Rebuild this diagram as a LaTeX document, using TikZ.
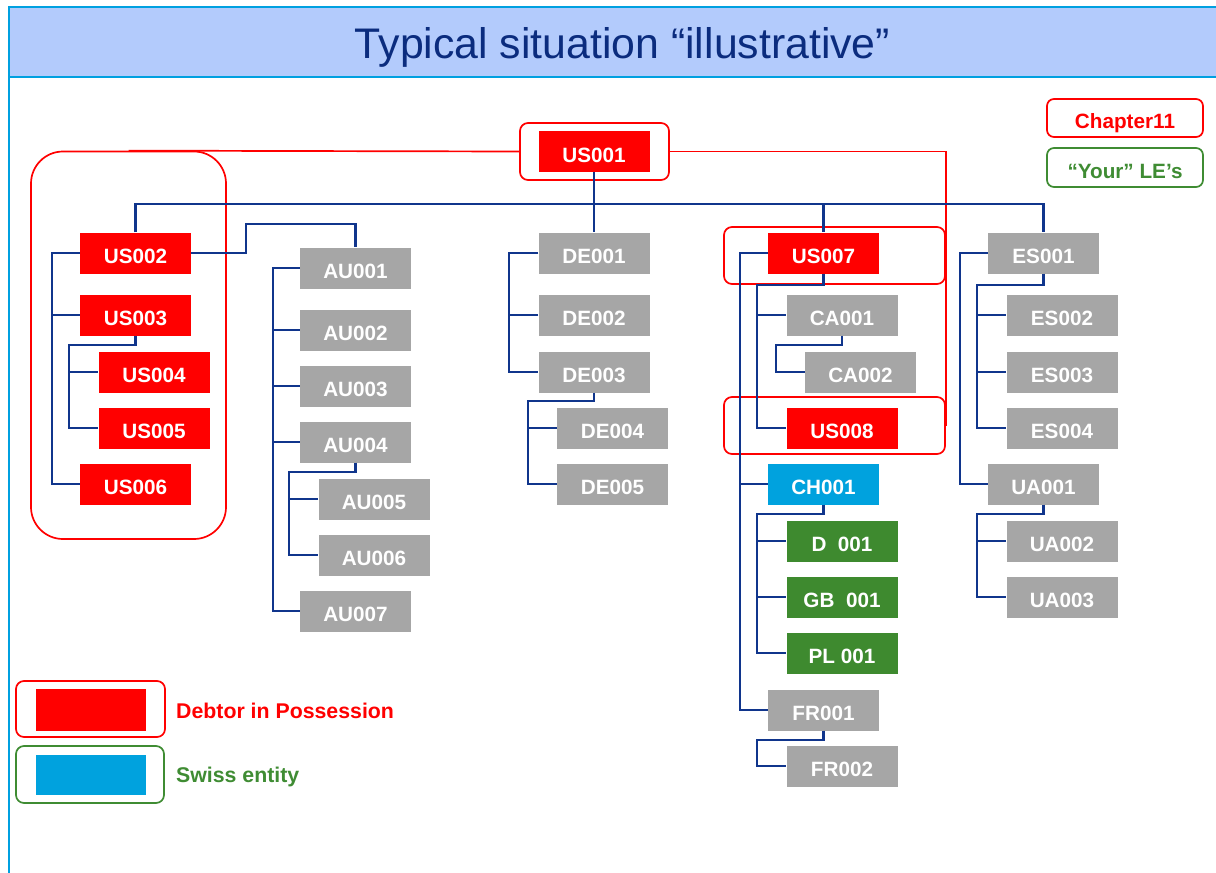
\documentclass[tikz,border=0pt]{standalone}
\usepackage{fontspec}
\setmainfont{Liberation Sans}
\definecolor{dipred}{HTML}{FF0000}
\definecolor{legrey}{HTML}{A6A6A6}
\definecolor{navyline}{HTML}{10358C}
\definecolor{swissblue}{HTML}{00A2DE}
\definecolor{boxgreen}{HTML}{3E8A2F}
\definecolor{legreen}{HTML}{3F8C33}
\definecolor{titlefill}{HTML}{B3CBFC}
\definecolor{titlenavy}{HTML}{0B2C7E}
\definecolor{framecyan}{HTML}{00A0E0}
\newcommand\entfont{\fontsize{20.7}{24}\selectfont\bfseries}
\newcommand\keyfont{\fontsize{21.3}{25}\selectfont\bfseries}
\tikzset{
  ent/.style={rectangle, minimum width=111pt, minimum height=41pt, inner sep=0pt,
    text=white, font=\entfont, text height=21pt, text depth=0pt},
  dip/.style={ent, fill=dipred},
  lent/.style={ent, fill=legrey},
  swent/.style={ent, fill=swissblue},
  grent/.style={ent, fill=boxgreen},
  link/.style={draw=navyline, line width=2.3pt},
  redl/.style={draw=dipred, line width=1.7pt},
  ring/.style={rectangle, draw=dipred, line width=1.7pt, rounded corners=8pt, inner sep=0pt},
  keytext/.style={font=\keyfont, inner sep=0pt, text height=15pt, text depth=0pt},
}
\begin{document}
\begin{tikzpicture}[x=1pt,y=-1pt]
\useasboundingbox (0,0) rectangle (1216,873);
% title band
\fill[titlefill] (9,7) rectangle (1216,77);
\draw[framecyan, line width=1.3pt] (1216,7) -- (9,7);
\draw[framecyan, line width=2.6pt] (9,77) -- (1216,77);
\draw[framecyan, line width=2.4pt] (9,6.4) -- (9,873);
\node[font=\fontsize{42.8}{48}\selectfont, text=titlenavy, anchor=base, inner sep=0pt] (title) at (622.5,58) {Typical situation “illustrative”};

% red outlines
\node[ring, minimum width=149pt, minimum height=57pt] (us001o) at (594.5,151.5) {};
\node[ring, rounded corners=32pt, minimum width=195pt, minimum height=387.5pt] (grp) at (128.5,345.25) {};
\node[ring, minimum width=221pt, minimum height=57pt] (us007o) at (834.5,255.5) {};
\node[ring, minimum width=221pt, minimum height=57pt] (us008o) at (834.5,425.5) {};
\draw[redl] (grp.north) -- (us001o.west);
\draw[redl] (us001o.east) -| (us008o.east);

% entities
\node[dip] (us001) at (594,151.5) {US001};
\node[dip] (us002) at (135.5,253) {US002};
\node[dip] (us003) at (135.5,315) {US003};
\node[dip] (us004) at (154,372) {US004};
\node[dip] (us005) at (154,428) {US005};
\node[dip] (us006) at (135.5,484) {US006};
\node[lent] (au001) at (355.5,268) {AU001};
\node[lent] (au002) at (355.5,330) {AU002};
\node[lent] (au003) at (355.5,386) {AU003};
\node[lent] (au004) at (355.5,442) {AU004};
\node[lent] (au005) at (374,499) {AU005};
\node[lent] (au006) at (374,555) {AU006};
\node[lent] (au007) at (355.5,611) {AU007};
\node[lent] (de001) at (594,253) {DE001};
\node[lent] (de002) at (594,315) {DE002};
\node[lent] (de003) at (594,372) {DE003};
\node[lent] (de004) at (612.5,428) {DE004};
\node[lent] (de005) at (612.5,484) {DE005};
\node[dip] (us007) at (823.5,253) {US007};
\node[lent] (ca001) at (842,315) {CA001};
\node[lent] (ca002) at (860.5,372) {CA002};
\node[dip] (us008) at (842,428) {US008};
\node[swent] (ch001) at (823.5,484) {CH001};
\node[grent] (d001) at (842,541) {D\ \ 001};
\node[grent] (gb001) at (842,597) {GB\ \ 001};
\node[grent] (pl001) at (842,653) {PL 001};
\node[lent] (fr001) at (823.5,710) {FR001};
\node[lent] (fr002) at (842,766) {FR002};
\node[lent] (es001) at (1043.5,253) {ES001};
\node[lent] (es002) at (1062,315) {ES002};
\node[lent] (es003) at (1062,372) {ES003};
\node[lent] (es004) at (1062,428) {ES004};
\node[lent] (ua001) at (1043.5,484) {UA001};
\node[lent] (ua002) at (1062,541) {UA002};
\node[lent] (ua003) at (1062,597) {UA003};

% connectors
\coordinate (bus) at (594,204);
\coordinate (k1) at (246,224);
\draw[link] (us001.south) -- (de001.north);
\draw[link] (us002.north) |- (bus) -| (es001.north);
\draw[link] (bus) -| (us007.north);
\draw[link] (us002.east) -| (k1) -| (au001.north);
% US002 tree
\draw[link] (us002.west) -- ++(-28,0) |- (us006.west);
\draw[link] (us003.west) -- ++(-28,0);
\draw[link] (us003.south) -- ++(0,9) -| ([xshift=-29pt]us005.west) -- (us005.west);
\draw[link] ([xshift=-29pt]us004.west) -- (us004.west);
% AU tree
\draw[link] (au001.west) -- ++(-27,0) |- (au007.west);
\draw[link] (au002.west) -- ++(-27,0);
\draw[link] (au003.west) -- ++(-27,0);
\draw[link] (au004.west) -- ++(-27,0);
\draw[link] (au004.south) -- ++(0,9) -| ([xshift=-29pt]au006.west) -- (au006.west);
\draw[link] ([xshift=-29pt]au005.west) -- (au005.west);
% DE tree
\draw[link] (de001.west) -- ++(-29,0) |- (de003.west);
\draw[link] (de002.west) -- ++(-29,0);
\draw[link] (de003.south) -- ++(0,8) -| ([xshift=-29pt]de005.west) -- (de005.west);
\draw[link] ([xshift=-29pt]de004.west) -- (de004.west);
% US007 tree
\draw[link] (us007.west) -- ++(-28,0) |- (fr001.west);
\draw[link] (ch001.west) -- ++(-28,0);
\draw[link] (us007.south) -- ++(0,11) -| ([xshift=-29pt]us008.west) -- (us008.west);
\draw[link] ([xshift=-29pt]ca001.west) -- (ca001.west);
\draw[link] (ca001.south) -- ++(0,9) -| ([xshift=-29pt]ca002.west) -- (ca002.west);
\draw[link] (ch001.south) -- ++(0,9) -| ([xshift=-29pt]pl001.west) -- (pl001.west);
\draw[link] ([xshift=-29pt]d001.west) -- (d001.west);
\draw[link] ([xshift=-29pt]gb001.west) -- (gb001.west);
\draw[link] (fr001.south) -- ++(0,9) -| ([xshift=-29pt]fr002.west) -- (fr002.west);
% ES tree
\draw[link] (es001.west) -- ++(-28,0) |- (ua001.west);
\draw[link] (es001.south) -- ++(0,11) -| ([xshift=-29pt]es004.west) -- (es004.west);
\draw[link] ([xshift=-29pt]es002.west) -- (es002.west);
\draw[link] ([xshift=-29pt]es003.west) -- (es003.west);
\draw[link] (ua001.south) -- ++(0,9) -| ([xshift=-29pt]ua003.west) -- (ua003.west);
\draw[link] ([xshift=-29pt]ua002.west) -- (ua002.west);

% top-right legend
\node[ring, rounded corners=7pt, minimum width=156pt, minimum height=38pt, text=dipred, font=\entfont, text height=21pt, text depth=0pt] (chap) at (1125,118) {Chapter11};
\node[ring, draw=legreen, rounded corners=7pt, minimum width=156pt, minimum height=39pt, text=legreen, font=\entfont, text height=21pt, text depth=0pt] (yours) at (1125,167.5) {“Your” LE’s};

% bottom-left legend
\node[ring, minimum width=149pt, minimum height=56pt] (dipo) at (90.5,709) {};
\node[rectangle, fill=dipred, minimum width=110pt, minimum height=42pt, inner sep=0pt] (dipkey) at (91,710) {};
\node[ring, draw=legreen, minimum width=148pt, minimum height=57pt] (swo) at (90,774.5) {};
\node[rectangle, fill=swissblue, minimum width=110pt, minimum height=40pt, inner sep=0pt] (swkey) at (91,775) {};
\node[keytext, text=dipred, anchor=west] (diptext) at (176,710.5) {Debtor in Possession};
\node[keytext, text=legreen, anchor=west] (swtext) at (176,775) {Swiss entity};
\end{tikzpicture}
\end{document}
